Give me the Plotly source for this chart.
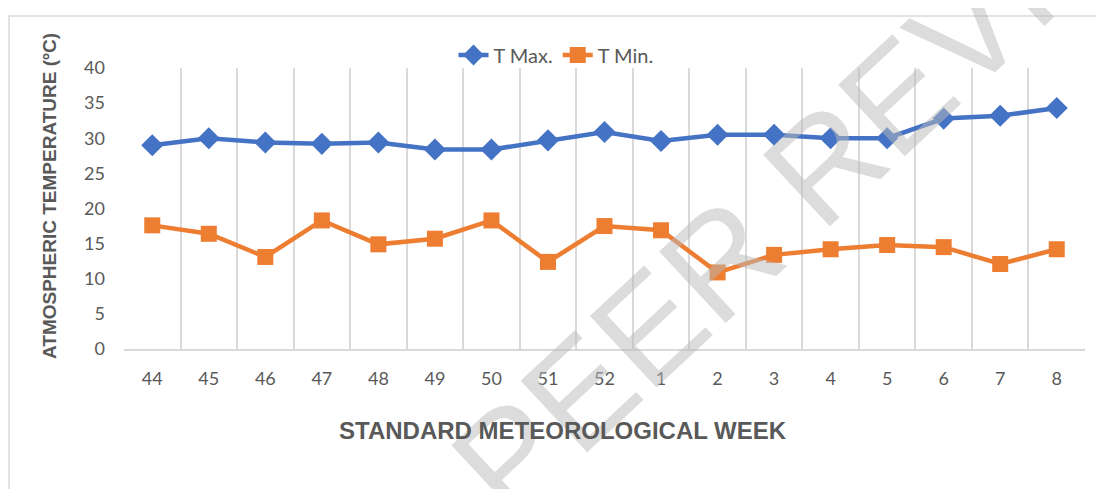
import plotly.graph_objects as go

weeks = ["44", "45", "46", "47", "48", "49", "50", "51", "52", "1", "2", "3", "4", "5", "6", "7", "8"]
t_max = [29.0, 30.0, 29.4, 29.2, 29.4, 28.4, 28.4, 29.7, 30.9, 29.6, 30.5, 30.5, 30.0, 30.0, 32.8, 33.2, 34.3]
t_min = [17.6, 16.4, 13.1, 18.3, 14.9, 15.7, 18.3, 12.4, 17.5, 16.9, 10.9, 13.4, 14.2, 14.8, 14.5, 12.1, 14.2]

# page body adds an 8px offset; target coordinates are given in screen pixels
OFF = 8
L, R, T, B = 124 - OFF, 1085 - OFF, 68 - OFF, 349 - OFF
W, H = R - L, B - T


def px(x):
    return (x - OFF - L) / W


def py(y):
    return (B - (y - OFF)) / H


fig = go.Figure()
fig.add_trace(go.Scatter(
    x=weeks, y=t_max, name="T Max.", mode="lines+markers",
    line=dict(color="#4472C4", width=4.5),
    marker=dict(symbol="diamond", size=17, color="#4472C4"),
))
fig.add_trace(go.Scatter(
    x=weeks, y=t_min, name="T Min.", mode="lines+markers",
    line=dict(color="#ED7D31", width=4.5),
    marker=dict(symbol="square", size=16, color="#ED7D31"),
))

tick_font = dict(family="Lato, Calibri, sans-serif", size=18, color="#595959")

fig.update_layout(
    width=1104, height=489,
    margin=dict(l=L, r=1104 - R, t=T, b=489 - B, autoexpand=False),
    paper_bgcolor="white", plot_bgcolor="white",
    showlegend=True,
    legend=dict(orientation="h", x=px(556), y=py(55), xanchor="center", yanchor="middle",
                font=dict(family="Lato, Calibri, sans-serif", size=20, color="#595959"),
                bgcolor="rgba(0,0,0,0)"),
    xaxis=dict(
        type="category", range=[-0.5, len(weeks) - 0.5],
        tickson="boundaries", showgrid=True, gridcolor="#D9D9D9", gridwidth=1.5,
        showline=True, linecolor="#D9D9D9", linewidth=1.5,
        ticks="", tickfont=tick_font, ticklabelstandoff=13,
        zeroline=False, fixedrange=True,
    ),
    yaxis=dict(
        range=[0, 40], dtick=5, showgrid=False, zeroline=False, showline=False,
        tickfont=tick_font, ticks="", ticklabelstandoff=18, fixedrange=True,
    ),
    annotations=[
        dict(text="PEER REVIEW", xref="paper", yref="paper",
             x=px(836), y=py(152), showarrow=False, textangle=-43,
             xanchor="center", yanchor="middle",
             font=dict(family="Liberation Sans, Arial, sans-serif", size=142,
                       color="rgba(185,185,185,0.5)")),
        dict(text="<b>ATMOSPHERIC TEMPERATURE (ºC)</b>", xref="paper", yref="paper",
             x=px(49), y=py(196), textangle=-90, showarrow=False,
             xanchor="center", yanchor="middle",
             font=dict(family="Liberation Sans, Arial, sans-serif", size=19, color="#595959")),
        dict(text="<b>STANDARD METEOROLOGICAL WEEK</b>", xref="paper", yref="paper",
             x=px(563), y=py(430), showarrow=False,
             xanchor="center", yanchor="middle",
             font=dict(family="Liberation Sans, Arial, sans-serif", size=24, color="#595959")),
    ],
    shapes=[
        dict(type="rect", xref="paper", yref="paper",
             x0=px(9), x1=px(1120), y0=py(505), y1=py(16),
             line=dict(color="#D9D9D9", width=1.5), fillcolor="rgba(0,0,0,0)", layer="below"),
    ],
)

fig.write_html("out.html")
